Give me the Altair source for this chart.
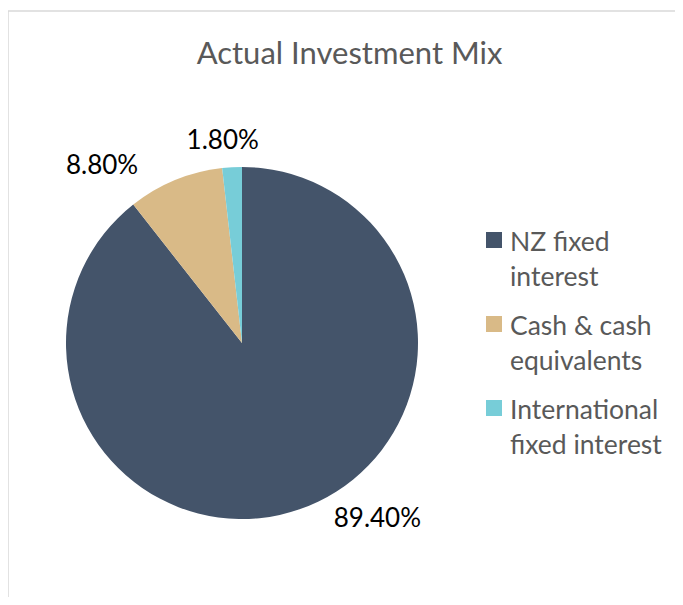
import altair as alt
import pandas as pd

# ---- data ----
categories = ["NZ fixed interest", "Cash & cash equivalents", "International fixed interest"]
values = [89.4, 8.8, 1.8]
value_labels = ["89.40%", "8.80%", "1.80%"]
legend_lines = [["NZ fixed", "interest"], ["Cash & cash", "equivalents"], ["International", "fixed interest"]]
colors = ["#44546A", "#D9BA87", "#77CDD8"]
title_text = "Actual Investment Mix"

df = pd.DataFrame({
    "category": categories,
    "value": values,
    "label": value_labels,
    "order": list(range(len(categories))),
    "legend_text": ["\n".join(l) for l in legend_lines],
})

# ---- layout ----
W, H = 667, 586
CX, CY, R = 234, 332, 176
LABEL_R = 200
label_offsets = {
    "NZ fixed interest": (70, -13),
    "Cash & cash equivalents": (-64, 8),
    "International fixed interest": (-8, -2),
}

base = alt.Chart(df)
color = alt.Color("category:N", scale=alt.Scale(domain=categories, range=colors), legend=None)

pie = base.mark_arc(outerRadius=R).encode(
    theta=alt.Theta("value:Q", stack=True),
    order=alt.Order("order:Q"),
    color=color,
    x=alt.value(CX),
    y=alt.value(CY),
)

mid_base = base.transform_window(
    cum="sum(value)", sort=[alt.SortField("order")], frame=[None, 0]
).transform_calculate(mid="datum.cum - datum.value / 2")

text_layers = []
for cat in categories:
    dx, dy = label_offsets[cat]
    text_layers.append(
        mid_base.transform_filter(alt.datum.category == cat)
        .mark_text(radius=LABEL_R, dx=dx, dy=dy, font="Lato", fontSize=26,
                   color="#000000", baseline="middle", align="center")
        .encode(
            theta=alt.Theta("mid:Q", scale=alt.Scale(domain=[0, 100])),
            text="label:N",
            x=alt.value(CX),
            y=alt.value(CY),
        )
    )

leg_y = alt.Y("category:N", scale=alt.Scale(domain=categories, range=[229, 397], padding=0), axis=None)
leg_sq = base.mark_square(size=256, opacity=1).encode(
    x=alt.value(486), y=leg_y, color=color
)
leg_txt = base.mark_text(
    align="left", baseline="alphabetic", dy=11, lineHeight=35, lineBreak="\n",
    font="Lato", fontSize=26.5, color="#595959"
).encode(x=alt.value(502), y=leg_y, text="legend_text:N")

frame_df = pd.DataFrame({"k": [0]})
border_top = alt.Chart(frame_df).mark_rule(color="#d9d9d9", strokeWidth=1.5).encode(
    x=alt.value(0), x2=alt.value(W), y=alt.value(0)
)
border_left = alt.Chart(frame_df).mark_rule(color="#d9d9d9", strokeWidth=1.5).encode(
    x=alt.value(0), y=alt.value(0), y2=alt.value(H)
)

chart = alt.layer(
    border_top, border_left, pie, *text_layers, leg_sq, leg_txt
).resolve_scale(theta="independent").properties(
    width=W,
    height=H,
    title=alt.Title(title_text, font="Lato", fontSize=31, fontWeight="normal",
                    color="#595959", anchor="middle", offset=-51,
                    baseline="alphabetic", dx=8, dy=34),
    padding={"left": 0, "top": 3, "right": 0, "bottom": 0},
    autosize=alt.AutoSizeParams(type="none"),
).configure_view(stroke=None)

chart.save("out.html", embed_options={"renderer": "svg", "actions": False})
